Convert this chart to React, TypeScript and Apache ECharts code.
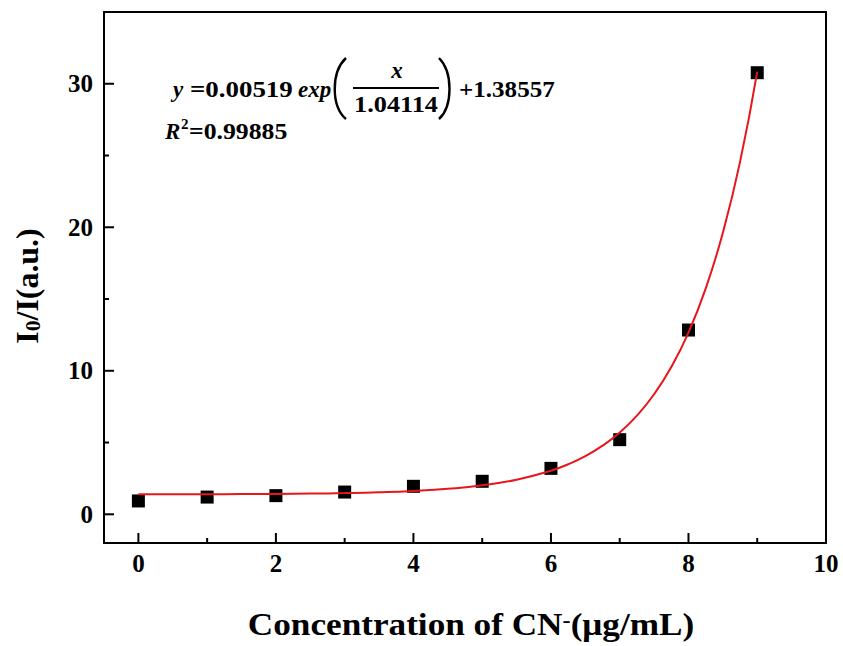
import React, { useEffect, useRef } from "react";
import * as echarts from "echarts";

// Measured points
const pointX = [0, 1, 2, 3, 4, 5, 6, 7, 8, 9];
const pointY = [0.93, 1.2, 1.3, 1.55, 1.95, 2.3, 3.2, 5.2, 12.84, 30.77];

// Fitted curve
const curveX = [0, 0.5, 1, 1.5, 2, 2.5, 3, 3.5, 4, 4.5, 5, 5.5, 6, 6.25, 6.5, 6.75, 7, 7.25, 7.5, 7.75, 8, 8.25, 8.5, 8.75, 9];
const curveY = [1.391, 1.394, 1.399, 1.408, 1.421, 1.443, 1.478, 1.535, 1.628, 1.777, 2.018, 2.407, 3.038, 3.486, 4.055, 4.78, 5.702, 6.873, 8.362, 10.256, 12.664, 15.726, 19.614, 24.556, 30.847];

// Tick values
const xLabelValues = [0, 2, 4, 6, 8, 10];
const xMinorValues = [1, 3, 5, 7, 9];
const yLabelValues = [0, 10, 20, 30];
const yMinorValues = [5, 15, 25];

// Equation strings
const eqCoef = "=0.00519";
const eqDenom = "1.04114";
const eqOffset = "+1.38557";
const eqR2 = "=0.99885";

const FONT = '"Liberation Serif", "Times New Roman", serif';
const X_MIN = -0.5, X_MAX = 10, Y_MIN = -2, Y_MAX = 35;
const GRID = { left: 104, right: 17, top: 12, bottom: 103 };

export default function App() {
  const ref = useRef<HTMLDivElement>(null);
  const tickRef = useRef<HTMLDivElement>(null);

  useEffect(() => {
    if (!ref.current) return;
    const chart = echarts.init(ref.current, null, { renderer: "svg" });

    const eqText = (x: number, y: number, text: string, italic: boolean, size = 23, sx = 1.14, align = "left") => ({
      type: "text",
      x,
      y,
      scaleX: sx,
      style: {
        text,
        fontFamily: FONT,
        fontSize: size,
        fontWeight: "bold",
        fontStyle: italic ? "italic" : "normal",
        fill: "#000",
        align,
        verticalAlign: "middle",
      },
    });

    const borderAxis = (min: number, max: number, pos: string) => ({
      type: "value",
      min,
      max,
      position: pos,
      axisLine: { show: true, onZero: false, lineStyle: { color: "#000", width: 2 } },
      splitLine: { show: false },
      axisTick: { show: false },
      axisLabel: { show: false },
    });

    const option: any = {
      animation: false,
      grid: GRID,
      xAxis: [
        {
          type: "value",
          min: X_MIN,
          max: X_MAX,
          position: "bottom",
          axisLine: { show: true, onZero: false, lineStyle: { color: "#000", width: 2 } },
          splitLine: { show: false },
          axisTick: { show: false },
          axisLabel: {
            show: true,
            margin: 8,
            customValues: xLabelValues,
            fontFamily: FONT,
            fontSize: 25,
            fontWeight: "bold",
            color: "#000",
          },
        },
        borderAxis(X_MIN, X_MAX, "top"),
      ],
      yAxis: [
        {
          type: "value",
          min: Y_MIN,
          max: Y_MAX,
          position: "left",
          axisLine: { show: true, onZero: false, lineStyle: { color: "#000", width: 2 } },
          splitLine: { show: false },
          axisTick: { show: false },
          axisLabel: {
            show: true,
            margin: 11,
            customValues: yLabelValues,
            fontFamily: FONT,
            fontSize: 25,
            fontWeight: "bold",
            color: "#000",
          },
        },
        borderAxis(Y_MIN, Y_MAX, "right"),
      ],
      series: [
        {
          type: "scatter",
          symbol: "rect",
          symbolSize: 13,
          itemStyle: { color: "#000", opacity: 1 },
          data: pointX.map((x, i) => [x, pointY[i]]),
          z: 2,
        },
        {
          type: "line",
          smooth: true,
          showSymbol: false,
          symbol: "none",
          lineStyle: { color: "#e8161b", width: 2 },
          data: curveX.map((x, i) => [x, curveY[i]]),
          z: 3,
        },
      ],
      graphic: [
        eqText(173, 89, "y", true, 23, 1.0),
        eqText(190, 89, eqCoef, false, 23, 1.17),
        eqText(298, 89, "exp", true, 23, 1.0),
        {
          type: "bezierCurve",
          shape: { x1: 346, y1: 58, cpx1: 331, cpy1: 72, cpx2: 331, cpy2: 106, x2: 346, y2: 119 },
          style: { stroke: "#000", lineWidth: 2.4, fill: null },
        },
        eqText(397, 70, "x", true, 23, 1.0, "center"),
        {
          type: "line",
          shape: { x1: 353, y1: 88, x2: 439, y2: 88 },
          style: { stroke: "#000", lineWidth: 2 },
        },
        eqText(396, 104, eqDenom, false, 23, 1.14, "center"),
        {
          type: "bezierCurve",
          shape: { x1: 439, y1: 58, cpx1: 453, cpy1: 72, cpx2: 453, cpy2: 106, x2: 439, y2: 119 },
          style: { stroke: "#000", lineWidth: 2.4, fill: null },
        },
        eqText(459, 89, eqOffset, false, 23, 1.09),
        eqText(165, 131, "R", true, 23, 1.0),
        eqText(181, 124, "2", false, 15, 1.0),
        eqText(189, 131, eqR2, false, 23, 1.12),
        {
          type: "text",
          x: 28,
          y: 286,
          rotation: Math.PI / 2,
          scaleX: 1.03,
          style: {
            text: "{m|I}{s|0}{m|/I(a.u.)}",
            align: "center",
            verticalAlign: "middle",
            fill: "#000",
            rich: {
              m: { fontFamily: FONT, fontSize: 31, fontWeight: "bold", fill: "#000" },
              s: { fontFamily: FONT, fontSize: 21, fontWeight: "bold", fill: "#000", verticalAlign: "bottom" },
            },
          },
        },
        {
          type: "text",
          x: 471,
          y: 624,
          scaleX: 1.1,
          style: {
            text: "{m|Concentration of CN}{p|-}{m|(μg/mL)}",
            align: "center",
            verticalAlign: "middle",
            fill: "#000",
            rich: {
              m: { fontFamily: FONT, fontSize: 32, fontWeight: "bold", fill: "#000" },
              p: { fontFamily: FONT, fontSize: 22, fontWeight: "bold", fill: "#000", verticalAlign: "top" },
            },
          },
        },
      ],
    };

    chart.setOption(option);
    return () => chart.dispose();
  }, []);

  // Tick marks: a plain overlay chart with the same grid and axis ranges,
  // drawing each tick through its own scale (api.coord).
  useEffect(() => {
    if (!tickRef.current) return;
    const ticks = echarts.init(tickRef.current, null, { renderer: "svg" });

    const xTicks = [...xLabelValues.map((v) => [v, 1]), ...xMinorValues.map((v) => [v, 0])];
    const yTicks = [...yLabelValues.map((v) => [v, 1]), ...yMinorValues.map((v) => [v, 0])];

    const tickSeries = (data: number[][], horizontal: boolean) => ({
      type: "custom",
      clip: false,
      z: 5,
      data,
      renderItem: (params: any, api: any) => {
        const v = api.value(0);
        const len = api.value(1) ? 10 : 5;
        if (horizontal) {
          const p = api.coord([v, Y_MIN]);
          return {
            type: "line",
            shape: { x1: p[0], y1: p[1], x2: p[0], y2: p[1] - len },
            style: { stroke: "#000", lineWidth: 2 },
          };
        }
        const p = api.coord([X_MIN, v]);
        return {
          type: "line",
          shape: { x1: p[0], y1: p[1], x2: p[0] + len, y2: p[1] },
          style: { stroke: "#000", lineWidth: 2 },
        };
      },
    });

    const hiddenAxis = (min: number, max: number) => ({
      type: "value",
      min,
      max,
      axisLine: { show: false, onZero: false },
      axisTick: { show: false },
      axisLabel: { show: false },
      splitLine: { show: false },
    });

    ticks.setOption({
      animation: false,
      backgroundColor: "transparent",
      grid: GRID,
      xAxis: hiddenAxis(X_MIN, X_MAX),
      yAxis: hiddenAxis(Y_MIN, Y_MAX),
      series: [tickSeries(xTicks, true), tickSeries(yTicks, false)],
    });
    return () => ticks.dispose();
  }, []);

  return (
    <div style={{ position: "absolute", left: 0, top: 0, width: 843, height: 646, background: "#fff" }}>
      <div ref={ref} style={{ position: "absolute", left: 0, top: 0, width: 843, height: 646 }} />
      <div
        ref={tickRef}
        style={{ position: "absolute", left: 0, top: 0, width: 843, height: 646, pointerEvents: "none" }}
      />
    </div>
  );
}
